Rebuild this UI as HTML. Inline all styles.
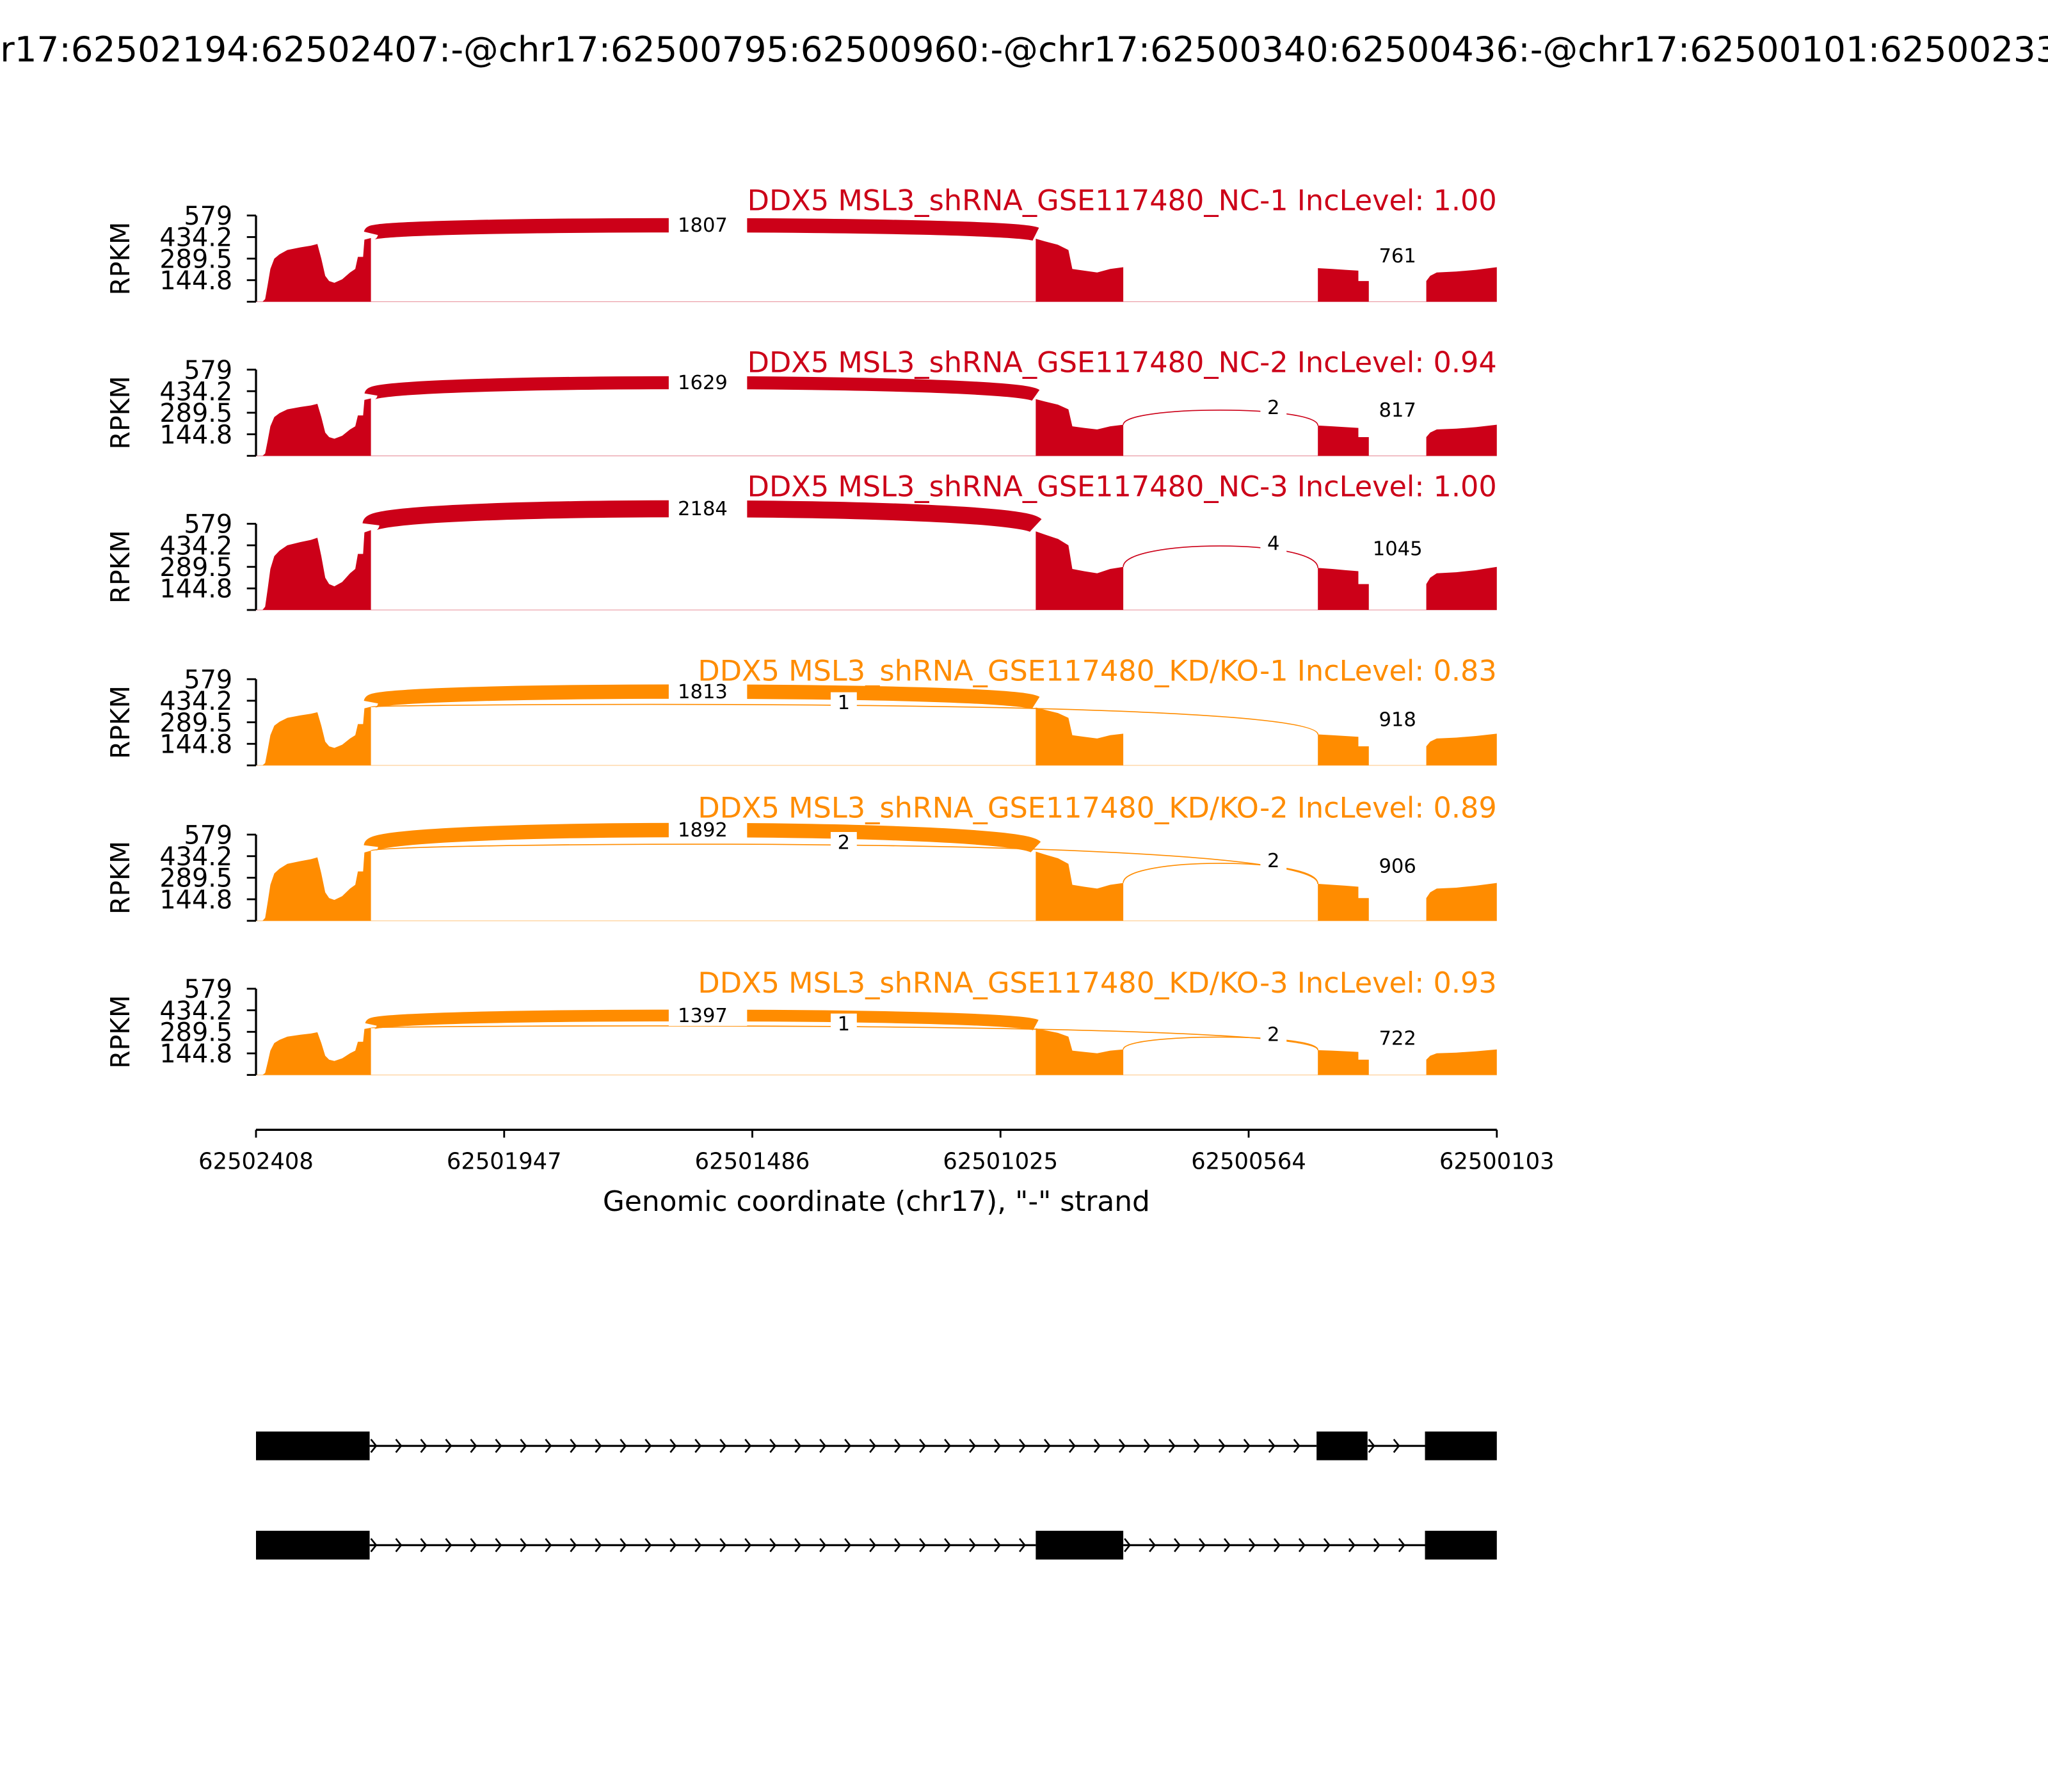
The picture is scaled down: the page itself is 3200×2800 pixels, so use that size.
<!DOCTYPE html>
<html><head><meta charset="utf-8"><style>html,body{margin:0;padding:0;background:#fff}svg{display:block}</style></head>
<body>
<svg id="s" xmlns="http://www.w3.org/2000/svg" width="3200" height="2800" viewBox="0 0 1568 1372" font-family="DejaVu Sans, Liberation Sans, sans-serif">
<rect width="1568" height="1372" fill="#fff"/>
<text x="772" y="47" font-size="26.8" text-anchor="middle">chr17:62502194:62502407:-@chr17:62500795:62500960:-@chr17:62500340:62500436:-@chr17:62500101:62500233</text>
<g id="g"></g>
<line x1="196" y1="865" x2="1146" y2="865" stroke="#000" stroke-width="1.6"/>
<g stroke="#000" stroke-width="1.4">
<line x1="196" y1="865" x2="196" y2="871"/><line x1="386" y1="865" x2="386" y2="871"/><line x1="576" y1="865" x2="576" y2="871"/><line x1="766" y1="865" x2="766" y2="871"/><line x1="956" y1="865" x2="956" y2="871"/><line x1="1146" y1="865" x2="1146" y2="871"/>
</g>
<g font-size="17.3" text-anchor="middle">
<text x="196" y="895">62502408</text><text x="386" y="895">62501947</text><text x="576" y="895">62501486</text><text x="766" y="895">62501025</text><text x="956" y="895">62500564</text><text x="1146" y="895">62500103</text>
</g>
<text x="671" y="927" font-size="21.5" text-anchor="middle">Genomic coordinate (chr17), "-" strand</text>
<g id="gm"></g>
</svg>
<script>
var g=document.getElementById('g'),gm=document.getElementById('gm');
var h='';
var RED='#cc0018',OR='#ff8c00';
var P=[
{t:165,s:1,c:RED,n:'DDX5 MSL3_shRNA_GSE117480_NC-1 IncLevel: 1.00',ly:161,big:'1807',bw:11,pk:167,a:[],sm:[['761',1070,196]]},
{t:283,s:0.9,c:RED,n:'DDX5 MSL3_shRNA_GSE117480_NC-2 IncLevel: 0.94',ly:285,big:'1629',bw:10,pk:288,a:[['2',975,312,860,1009]],sm:[['817',1070,314]]},
{t:401,s:1.25,c:RED,n:'DDX5 MSL3_shRNA_GSE117480_NC-3 IncLevel: 1.00',ly:380,big:'2184',bw:13,pk:383,a:[['4',975,416,860,1009]],sm:[['1045',1070,420]]},
{t:520,s:0.92,c:OR,n:'DDX5 MSL3_shRNA_GSE117480_KD/KO-1 IncLevel: 0.83',ly:521,big:'1813',bw:11,pk:524,a:[['1',646,538,284,1009]],sm:[['918',1070,551]]},
{t:639,s:1.1,c:OR,n:'DDX5 MSL3_shRNA_GSE117480_KD/KO-2 IncLevel: 0.89',ly:626,big:'1892',bw:11,pk:630,a:[['2',646,645,284,1009],['2',975,659,860,1009]],sm:[['906',1070,663]]},
{t:757,s:0.74,c:OR,n:'DDX5 MSL3_shRNA_GSE117480_KD/KO-3 IncLevel: 0.93',ly:760,big:'1397',bw:9,pk:773,a:[['1',646,784,284,1009],['2',975,792,860,1009]],sm:[['722',1070,795]]}
];
var e1=[[196,0],[201,0],[203,0.03],[205,0.2],[207,0.38],[210,0.5],[214,0.55],[220,0.6],[230,0.63],[238,0.65],[243,0.67],[246,0.5],[249,0.3],[252,0.24],[256,0.22],[262,0.26],[268,0.34],[272,0.38],[274,0.52],[278,0.52],[279,0.72],[284,0.74],[284,0]];
var e2=[[793,0],[793,0.73],[800,0.7],[810,0.66],[818,0.6],[821,0.38],[830,0.36],[840,0.34],[850,0.38],[860,0.4],[860,0]];
var e3=[[1009,0],[1009,0.39],[1020,0.38],[1030,0.37],[1040,0.36],[1040,0.24],[1048,0.24],[1048,0]];
var e4=[[1092,0],[1092,0.24],[1095,0.3],[1100,0.34],[1115,0.35],[1130,0.37],[1146,0.4],[1146,0]];
function topAt(p,x){var b=p.t+66,hh=66*p.s;var v={284:0.74,793:0.73,860:0.4,1009:0.39,1048:0.24,1092:0.26}[x];return b-Math.min(hh*v,66);}
P.forEach(function(p){
 var b=p.t+66,hh=66*p.s;
 [e1,e2,e3,e4].forEach(function(e){
  var d='M'+e.map(function(q){return q[0]+','+Math.max(p.t,(b-q[1]*hh)).toFixed(1)}).join(' L')+'Z';
  h+='<path d="'+d+'" fill="'+p.c+'"/>';
 });
 h+='<line x1="196" y1="'+b+'" x2="1146" y2="'+b+'" stroke="'+p.c+'" stroke-width="0.6" opacity="0.4"/>';
 p.a.forEach(function(a){var y1=topAt(p,a[3]),y2=topAt(p,a[4]);var pk=a[2]+2;var cy1=y1-(y1-pk)/0.75,cy2=y2-(y2-pk)/0.75;
  h+='<path d="M'+a[3]+','+y1+' C'+a[3]+','+cy1+' '+a[4]+','+cy2+' '+a[4]+','+y2+'" fill="none" stroke="'+p.c+'" stroke-width="0.8"/>';});
 var y1=topAt(p,284)-p.bw/2+2,y2=topAt(p,793)-p.bw/2+2,pk=p.pk+p.bw/2;
 var c=(8*pk-y1-y2)/6;
 h+='<path d="M284,'+y1+' C286,'+c.toFixed(1)+' 775,'+c.toFixed(1)+' 793,'+y2+'" fill="none" stroke="'+p.c+'" stroke-width="'+p.bw+'"/>';
 var ly=pk;
 h+='<rect x="512" y="'+(ly-9)+'" width="60" height="17" fill="#fff"/><text x="538" y="'+(ly+5)+'" font-size="15" text-anchor="middle">'+p.big+'</text>';
 p.a.forEach(function(a){h+='<rect x="'+(a[1]-10)+'" y="'+(a[2]-8)+'" width="20" height="16" fill="#fff"/><text x="'+a[1]+'" y="'+(a[2]+5)+'" font-size="15" text-anchor="middle">'+a[0]+'</text>';});
 p.sm.forEach(function(a){h+='<text x="'+a[1]+'" y="'+(a[2]+5)+'" font-size="15" text-anchor="middle">'+a[0]+'</text>';});
 h+='<line x1="196" y1="'+p.t+'" x2="196" y2="'+b+'" stroke="#000" stroke-width="1.6"/>';
 var lab=['579','434.2','289.5','144.8',''];
 for(var i=0;i<5;i++){var y=p.t+i*16.5;h+='<line x1="189" y1="'+y+'" x2="196" y2="'+y+'" stroke="#000" stroke-width="1.4"/>';
  if(lab[i])h+='<text x="178" y="'+(y+7)+'" font-size="19.5" text-anchor="end">'+lab[i]+'</text>';}
 h+='<text transform="translate(99,'+(p.t+33)+') rotate(-90)" font-size="20" text-anchor="middle">RPKM</text>';
 h+='<text x="1146" y="'+p.ly+'" font-size="21.85" text-anchor="end" fill="'+p.c+'">'+p.n+'</text>';
});
g.innerHTML=h;
var m='';
function track(y,boxes,segs){
 segs.forEach(function(s){m+='<line x1="'+s[0]+'" y1="'+y+'" x2="'+s[1]+'" y2="'+y+'" stroke="#000" stroke-width="1.5"/>';
  for(var x=s[0]+4;x<s[1]-4;x+=19.1){m+='<path d="M'+(x-3)+','+(y-5)+' L'+(x+1)+','+y+' L'+(x-3)+','+(y+5)+'" fill="none" stroke="#000" stroke-width="1.3"/>';}});
 boxes.forEach(function(bx){m+='<rect x="'+bx[0]+'" y="'+(y-11)+'" width="'+(bx[1]-bx[0])+'" height="22" fill="#000"/>';});
}
track(1107,[[196,283],[1008,1047],[1091,1146]],[[283,1008],[1047,1091]]);
track(1183,[[196,283],[793,860],[1091,1146]],[[283,793],[860,1091]]);
gm.innerHTML=m;
</script>
</body></html>
